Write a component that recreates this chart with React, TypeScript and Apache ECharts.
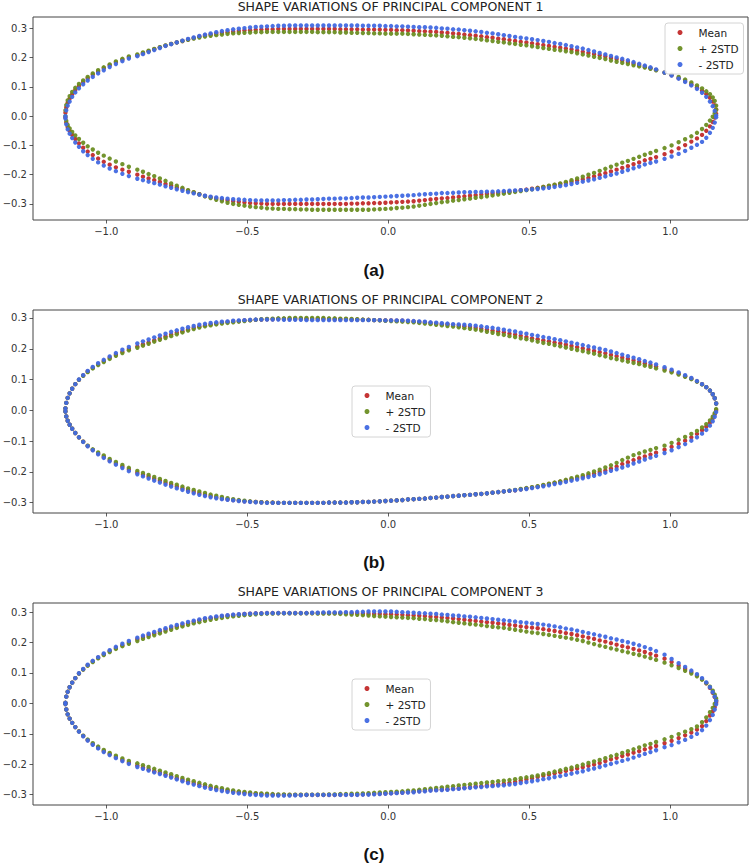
import React, { useEffect, useRef } from "react";
import * as echarts from "echarts";

const TITLES = [
  "SHAPE VARIATIONS OF PRINCIPAL COMPONENT 1",
  "SHAPE VARIATIONS OF PRINCIPAL COMPONENT 2",
  "SHAPE VARIATIONS OF PRINCIPAL COMPONENT 3",
];
const CAPTIONS = ["(a)", "(b)", "(c)"];
const SERIES_NAMES = ["Mean", "+ 2STD", "- 2STD"];
const X_TICKS = [-1.0, -0.5, 0.0, 0.5, 1.0];
const Y_TICKS = [-0.3, -0.2, -0.1, 0.0, 0.1, 0.2, 0.3];

// x positions along the contour (shared by upper and lower surfaces)
const X_LEAD = [-1.145, -1.142, -1.137, -1.13, -1.121, -1.11, -1.097, -1.082, -1.066, -1.048, -1.029, -1.009, -0.988, -0.966, -0.943, -0.92];
const X_MID = [
  -0.89, -0.87, -0.85, -0.83, -0.81, -0.79, -0.77, -0.75, -0.73, -0.71,
  -0.69, -0.67, -0.65, -0.63, -0.61, -0.59, -0.57, -0.55, -0.53, -0.51,
  -0.49, -0.47, -0.45, -0.43, -0.41, -0.39, -0.37, -0.35, -0.33, -0.31,
  -0.29, -0.27, -0.25, -0.23, -0.21, -0.19, -0.17, -0.15, -0.13, -0.11,
  -0.09, -0.07, -0.05, -0.03, -0.01, 0.01, 0.03, 0.05, 0.07, 0.09,
  0.11, 0.13, 0.15, 0.17, 0.19, 0.21, 0.23, 0.25, 0.27, 0.29,
  0.31, 0.33, 0.35, 0.37, 0.39, 0.41, 0.43, 0.45, 0.47, 0.49,
  0.51, 0.53, 0.55, 0.57, 0.59, 0.61, 0.63, 0.65, 0.67, 0.69,
  0.71, 0.73, 0.75, 0.77, 0.79, 0.81, 0.83, 0.85, 0.87, 0.89,
  0.91, 0.93, 0.95,
];
const X_TRAIL = [0.98, 1.005, 1.03, 1.053, 1.075, 1.095, 1.113, 1.128, 1.141, 1.151, 1.158, 1.163];
const XS = [...X_LEAD, ...X_MID, ...X_TRAIL];

// ---------- Principal component 1 ----------
const P1_UP_MEAN = [
  0.012, 0.03, 0.046, 0.06, 0.075, 0.09, 0.104, 0.117, 0.13, 0.142, 0.153, 0.164, 0.174, 0.184, 0.193, 0.201,
  0.208, 0.215, 0.222, 0.229, 0.235, 0.241, 0.247, 0.252, 0.257, 0.262,
  0.267, 0.272, 0.276, 0.279, 0.282, 0.285, 0.287, 0.289, 0.291, 0.293,
  0.294, 0.295, 0.296, 0.297, 0.297, 0.298, 0.298, 0.298, 0.298, 0.298,
  0.298, 0.298, 0.298, 0.298, 0.298, 0.298, 0.297, 0.297, 0.297, 0.297,
  0.296, 0.296, 0.296, 0.296, 0.295, 0.295, 0.294, 0.294, 0.293, 0.292,
  0.291, 0.29, 0.289, 0.288, 0.286, 0.285, 0.283, 0.281, 0.279, 0.277,
  0.275, 0.273, 0.27, 0.268, 0.265, 0.263, 0.26, 0.257, 0.254, 0.252,
  0.249, 0.246, 0.243, 0.24, 0.237, 0.234, 0.231, 0.228, 0.224, 0.22,
  0.216, 0.212, 0.208, 0.204, 0.199, 0.195, 0.19, 0.185, 0.18, 0.175,
  0.169, 0.164, 0.158,
  0.149, 0.14, 0.13, 0.12, 0.109, 0.098, 0.087, 0.076, 0.063, 0.05, 0.037, 0.022,
];
const P1_UP_PLUS = [
  0.02, 0.038, 0.054, 0.068, 0.083, 0.097, 0.11, 0.122, 0.134, 0.146, 0.157, 0.167, 0.177, 0.187, 0.196, 0.204,
  0.211, 0.218, 0.224, 0.23, 0.236, 0.242, 0.247, 0.252, 0.257, 0.261,
  0.265, 0.269, 0.272, 0.275, 0.277, 0.279, 0.281, 0.283, 0.284, 0.285,
  0.286, 0.287, 0.287, 0.288, 0.288, 0.288, 0.288, 0.288, 0.288, 0.288,
  0.288, 0.288, 0.287, 0.287, 0.287, 0.287, 0.286, 0.286, 0.285, 0.285,
  0.284, 0.284, 0.283, 0.283, 0.282, 0.282, 0.282, 0.282, 0.281, 0.28,
  0.279, 0.278, 0.277, 0.276, 0.275, 0.273, 0.271, 0.27, 0.268, 0.266,
  0.264, 0.262, 0.259, 0.257, 0.254, 0.252, 0.249, 0.247, 0.244, 0.242,
  0.239, 0.236, 0.233, 0.23, 0.227, 0.225, 0.222, 0.219, 0.215, 0.211,
  0.207, 0.203, 0.199, 0.195, 0.19, 0.186, 0.182, 0.178, 0.174, 0.17,
  0.166, 0.162, 0.157,
  0.149, 0.142, 0.134, 0.125, 0.115, 0.105, 0.095, 0.085, 0.075, 0.064, 0.052, 0.036,
];
const P1_UP_MINUS = [
  0.0, 0.02, 0.036, 0.05, 0.066, 0.081, 0.095, 0.109, 0.122, 0.134, 0.146, 0.157, 0.168, 0.178, 0.188, 0.197,
  0.205, 0.212, 0.219, 0.226, 0.233, 0.24, 0.246, 0.252, 0.258, 0.264,
  0.269, 0.274, 0.279, 0.283, 0.287, 0.291, 0.294, 0.297, 0.299, 0.301,
  0.303, 0.305, 0.306, 0.307, 0.308, 0.309, 0.309, 0.31, 0.31, 0.31,
  0.31, 0.31, 0.31, 0.31, 0.31, 0.31, 0.31, 0.31, 0.31, 0.31,
  0.309, 0.309, 0.309, 0.309, 0.308, 0.308, 0.307, 0.307, 0.306, 0.305,
  0.304, 0.304, 0.303, 0.302, 0.3, 0.299, 0.297, 0.296, 0.294, 0.292,
  0.29, 0.288, 0.285, 0.283, 0.28, 0.277, 0.274, 0.271, 0.268, 0.266,
  0.263, 0.26, 0.257, 0.254, 0.25, 0.247, 0.243, 0.239, 0.235, 0.231,
  0.226, 0.221, 0.216, 0.211, 0.206, 0.201, 0.196, 0.191, 0.185, 0.179,
  0.173, 0.167, 0.16,
  0.149, 0.139, 0.128, 0.117, 0.105, 0.093, 0.08, 0.066, 0.05, 0.034, 0.018, 0.002,
];
const P1_LO_MEAN = [
  -0.005, -0.022, -0.037, -0.05, -0.064, -0.078, -0.093, -0.108, -0.121, -0.133, -0.145, -0.156, -0.166, -0.175, -0.183, -0.19,
  -0.2, -0.207, -0.213, -0.219, -0.225, -0.232, -0.238, -0.244, -0.249, -0.255,
  -0.261, -0.267, -0.273, -0.277, -0.281, -0.285, -0.288, -0.291, -0.293, -0.295,
  -0.297, -0.298, -0.299, -0.3, -0.3, -0.3, -0.3, -0.3, -0.3, -0.3,
  -0.3, -0.3, -0.3, -0.3, -0.3, -0.3, -0.3, -0.3, -0.299, -0.299,
  -0.298, -0.298, -0.297, -0.297, -0.296, -0.295, -0.294, -0.293, -0.292, -0.291,
  -0.289, -0.287, -0.285, -0.283, -0.281, -0.28, -0.278, -0.276, -0.274, -0.272,
  -0.27, -0.268, -0.266, -0.264, -0.262, -0.26, -0.258, -0.256, -0.253, -0.251,
  -0.248, -0.245, -0.242, -0.239, -0.235, -0.232, -0.228, -0.224, -0.22, -0.216,
  -0.211, -0.206, -0.201, -0.195, -0.189, -0.183, -0.177, -0.171, -0.164, -0.158,
  -0.151, -0.146, -0.14,
  -0.13, -0.121, -0.11, -0.099, -0.087, -0.076, -0.064, -0.05, -0.035, -0.02, -0.005, 0.008,
];
const P1_LO_PLUS = [
  0.0, -0.016, -0.03, -0.042, -0.054, -0.066, -0.078, -0.091, -0.103, -0.114, -0.125, -0.135, -0.145, -0.155, -0.164, -0.173,
  -0.183, -0.19, -0.198, -0.205, -0.213, -0.221, -0.23, -0.238, -0.245, -0.253,
  -0.26, -0.267, -0.274, -0.28, -0.286, -0.291, -0.296, -0.3, -0.303, -0.306,
  -0.309, -0.311, -0.313, -0.315, -0.316, -0.317, -0.317, -0.318, -0.318, -0.319,
  -0.319, -0.32, -0.32, -0.32, -0.32, -0.32, -0.32, -0.32, -0.32, -0.32,
  -0.32, -0.32, -0.319, -0.318, -0.317, -0.316, -0.314, -0.313, -0.311, -0.309,
  -0.306, -0.303, -0.3, -0.297, -0.294, -0.292, -0.289, -0.287, -0.284, -0.282,
  -0.279, -0.277, -0.274, -0.271, -0.268, -0.265, -0.262, -0.259, -0.256, -0.253,
  -0.25, -0.246, -0.242, -0.238, -0.234, -0.23, -0.225, -0.219, -0.213, -0.207,
  -0.2, -0.194, -0.187, -0.18, -0.173, -0.166, -0.159, -0.153, -0.146, -0.139,
  -0.132, -0.126, -0.119,
  -0.109, -0.1, -0.089, -0.079, -0.069, -0.057, -0.044, -0.03, -0.015, -0.002, 0.01, 0.022,
];
const P1_LO_MINUS = [
  -0.008, -0.028, -0.045, -0.06, -0.075, -0.09, -0.105, -0.12, -0.133, -0.146, -0.158, -0.169, -0.179, -0.188, -0.197, -0.205,
  -0.214, -0.219, -0.224, -0.229, -0.234, -0.24, -0.245, -0.25, -0.255, -0.26,
  -0.264, -0.268, -0.272, -0.275, -0.278, -0.28, -0.282, -0.284, -0.285, -0.286,
  -0.287, -0.288, -0.288, -0.288, -0.288, -0.288, -0.287, -0.287, -0.286, -0.286,
  -0.285, -0.285, -0.284, -0.283, -0.282, -0.282, -0.281, -0.281, -0.28, -0.279,
  -0.278, -0.278, -0.277, -0.276, -0.275, -0.274, -0.273, -0.272, -0.271, -0.27,
  -0.268, -0.267, -0.266, -0.265, -0.263, -0.263, -0.262, -0.261, -0.26, -0.26,
  -0.259, -0.259, -0.258, -0.258, -0.257, -0.256, -0.255, -0.254, -0.253, -0.252,
  -0.25, -0.249, -0.247, -0.245, -0.242, -0.239, -0.236, -0.232, -0.228, -0.224,
  -0.22, -0.216, -0.211, -0.206, -0.201, -0.196, -0.19, -0.184, -0.178, -0.172,
  -0.165, -0.16, -0.155,
  -0.146, -0.138, -0.129, -0.119, -0.108, -0.098, -0.088, -0.074, -0.057, -0.04, -0.022, -0.004,
];

// ---------- Principal component 2 ----------
const P2_UP_MEAN = [
  0.006, 0.024, 0.04, 0.055, 0.07, 0.085, 0.099, 0.113, 0.126, 0.138, 0.149, 0.16, 0.171, 0.181, 0.19, 0.199,
  0.207, 0.214, 0.22, 0.227, 0.233, 0.24, 0.246, 0.252, 0.257, 0.263,
  0.268, 0.272, 0.276, 0.279, 0.282, 0.285, 0.287, 0.289, 0.29, 0.292,
  0.293, 0.294, 0.295, 0.296, 0.296, 0.297, 0.297, 0.297, 0.297, 0.297,
  0.297, 0.297, 0.297, 0.297, 0.296, 0.296, 0.296, 0.296, 0.295, 0.295,
  0.294, 0.294, 0.293, 0.293, 0.292, 0.292, 0.291, 0.291, 0.29, 0.289,
  0.287, 0.286, 0.284, 0.282, 0.28, 0.279, 0.277, 0.275, 0.273, 0.271,
  0.268, 0.265, 0.262, 0.259, 0.256, 0.253, 0.249, 0.246, 0.242, 0.238,
  0.234, 0.231, 0.227, 0.224, 0.22, 0.217, 0.213, 0.209, 0.205, 0.201,
  0.197, 0.193, 0.189, 0.185, 0.18, 0.176, 0.171, 0.167, 0.162, 0.157,
  0.152, 0.147, 0.142,
  0.134, 0.127, 0.119, 0.111, 0.103, 0.094, 0.085, 0.075, 0.064, 0.052, 0.039, 0.022,
];
const P2_UP_PLUS = [
  0.006, 0.024, 0.04, 0.055, 0.07, 0.085, 0.099, 0.112, 0.124, 0.136, 0.147, 0.157, 0.167, 0.177, 0.186, 0.195,
  0.203, 0.21, 0.216, 0.223, 0.229, 0.235, 0.241, 0.247, 0.253, 0.259,
  0.264, 0.269, 0.273, 0.276, 0.279, 0.282, 0.284, 0.286, 0.288, 0.29,
  0.292, 0.294, 0.296, 0.297, 0.298, 0.299, 0.299, 0.3, 0.3, 0.3,
  0.3, 0.3, 0.3, 0.3, 0.299, 0.299, 0.298, 0.298, 0.297, 0.296,
  0.295, 0.294, 0.293, 0.292, 0.291, 0.29, 0.289, 0.288, 0.287, 0.286,
  0.284, 0.282, 0.28, 0.278, 0.276, 0.274, 0.272, 0.27, 0.267, 0.265,
  0.262, 0.259, 0.255, 0.252, 0.248, 0.245, 0.241, 0.238, 0.234, 0.231,
  0.227, 0.223, 0.219, 0.216, 0.212, 0.208, 0.204, 0.2, 0.196, 0.192,
  0.188, 0.184, 0.179, 0.175, 0.17, 0.166, 0.162, 0.158, 0.154, 0.15,
  0.145, 0.141, 0.136,
  0.129, 0.123, 0.116, 0.109, 0.101, 0.093, 0.084, 0.075, 0.064, 0.052, 0.039, 0.022,
];
const P2_UP_MINUS = [
  0.006, 0.024, 0.04, 0.055, 0.07, 0.085, 0.1, 0.114, 0.128, 0.141, 0.153, 0.164, 0.175, 0.186, 0.197, 0.206,
  0.217, 0.224, 0.23, 0.237, 0.243, 0.249, 0.255, 0.26, 0.265, 0.27,
  0.274, 0.278, 0.281, 0.284, 0.286, 0.288, 0.289, 0.291, 0.292, 0.293,
  0.294, 0.295, 0.295, 0.295, 0.295, 0.295, 0.294, 0.294, 0.294, 0.294,
  0.293, 0.293, 0.293, 0.293, 0.293, 0.293, 0.293, 0.293, 0.293, 0.293,
  0.293, 0.293, 0.293, 0.293, 0.292, 0.292, 0.292, 0.292, 0.291, 0.29,
  0.289, 0.288, 0.286, 0.285, 0.283, 0.282, 0.28, 0.279, 0.278, 0.277,
  0.275, 0.273, 0.27, 0.268, 0.265, 0.262, 0.259, 0.256, 0.252, 0.249,
  0.245, 0.242, 0.238, 0.235, 0.231, 0.228, 0.224, 0.22, 0.216, 0.212,
  0.208, 0.204, 0.2, 0.196, 0.191, 0.186, 0.181, 0.176, 0.171, 0.166,
  0.16, 0.155, 0.149,
  0.14, 0.132, 0.123, 0.114, 0.105, 0.095, 0.085, 0.075, 0.064, 0.052, 0.039, 0.022,
];
const P2_LO_MEAN = [
  -0.004, -0.02, -0.034, -0.047, -0.06, -0.074, -0.088, -0.102, -0.116, -0.129, -0.141, -0.152, -0.163, -0.173, -0.183, -0.192,
  -0.203, -0.21, -0.216, -0.223, -0.229, -0.236, -0.242, -0.248, -0.254, -0.26,
  -0.265, -0.27, -0.275, -0.279, -0.283, -0.287, -0.29, -0.292, -0.294, -0.296,
  -0.297, -0.298, -0.299, -0.3, -0.3, -0.301, -0.301, -0.301, -0.301, -0.301,
  -0.301, -0.301, -0.301, -0.301, -0.3, -0.3, -0.3, -0.3, -0.299, -0.299,
  -0.298, -0.298, -0.297, -0.296, -0.295, -0.294, -0.293, -0.292, -0.29, -0.289,
  -0.288, -0.287, -0.285, -0.284, -0.282, -0.281, -0.279, -0.278, -0.276, -0.275,
  -0.273, -0.272, -0.27, -0.268, -0.266, -0.264, -0.262, -0.26, -0.257, -0.254,
  -0.251, -0.248, -0.244, -0.24, -0.236, -0.232, -0.228, -0.224, -0.22, -0.216,
  -0.211, -0.206, -0.201, -0.196, -0.19, -0.183, -0.175, -0.169, -0.162, -0.156,
  -0.15, -0.144, -0.138,
  -0.128, -0.119, -0.109, -0.099, -0.088, -0.077, -0.065, -0.053, -0.04, -0.026, -0.013, 0.0,
];
const P2_LO_PLUS = [
  -0.004, -0.02, -0.034, -0.047, -0.06, -0.074, -0.088, -0.102, -0.115, -0.127, -0.137, -0.147, -0.158, -0.168, -0.178, -0.187,
  -0.197, -0.204, -0.21, -0.217, -0.223, -0.23, -0.236, -0.242, -0.248, -0.254,
  -0.259, -0.264, -0.269, -0.274, -0.278, -0.282, -0.286, -0.289, -0.292, -0.294,
  -0.296, -0.298, -0.299, -0.3, -0.3, -0.301, -0.301, -0.301, -0.301, -0.301,
  -0.301, -0.301, -0.301, -0.301, -0.3, -0.3, -0.3, -0.3, -0.299, -0.299,
  -0.298, -0.298, -0.297, -0.296, -0.295, -0.294, -0.293, -0.292, -0.29, -0.289,
  -0.288, -0.287, -0.285, -0.284, -0.282, -0.281, -0.279, -0.278, -0.276, -0.275,
  -0.273, -0.272, -0.27, -0.268, -0.266, -0.264, -0.261, -0.259, -0.256, -0.253,
  -0.25, -0.247, -0.243, -0.239, -0.235, -0.231, -0.226, -0.221, -0.216, -0.211,
  -0.205, -0.199, -0.193, -0.186, -0.179, -0.171, -0.162, -0.154, -0.146, -0.14,
  -0.134, -0.129, -0.123,
  -0.115, -0.106, -0.096, -0.087, -0.077, -0.067, -0.056, -0.045, -0.033, -0.021, -0.009, 0.004,
];
const P2_LO_MINUS = [
  -0.004, -0.02, -0.034, -0.047, -0.06, -0.074, -0.088, -0.103, -0.117, -0.13, -0.143, -0.155, -0.166, -0.177, -0.188, -0.198,
  -0.208, -0.215, -0.222, -0.229, -0.235, -0.242, -0.248, -0.254, -0.259, -0.265,
  -0.27, -0.275, -0.279, -0.283, -0.286, -0.289, -0.291, -0.293, -0.295, -0.297,
  -0.298, -0.299, -0.3, -0.301, -0.301, -0.301, -0.301, -0.301, -0.301, -0.301,
  -0.301, -0.301, -0.301, -0.301, -0.3, -0.3, -0.3, -0.3, -0.299, -0.299,
  -0.298, -0.298, -0.297, -0.296, -0.295, -0.294, -0.293, -0.292, -0.29, -0.289,
  -0.288, -0.287, -0.285, -0.284, -0.282, -0.281, -0.279, -0.278, -0.276, -0.275,
  -0.273, -0.272, -0.27, -0.268, -0.266, -0.264, -0.262, -0.26, -0.258, -0.256,
  -0.253, -0.25, -0.247, -0.244, -0.24, -0.237, -0.233, -0.229, -0.225, -0.221,
  -0.217, -0.213, -0.208, -0.203, -0.197, -0.192, -0.186, -0.18, -0.173, -0.167,
  -0.16, -0.154, -0.148,
  -0.139, -0.13, -0.12, -0.11, -0.099, -0.088, -0.076, -0.064, -0.05, -0.036, -0.021, -0.006,
];

// ---------- Principal component 3 ----------
const P3_UP_MEAN = [
  0.002, 0.022, 0.038, 0.053, 0.068, 0.083, 0.098, 0.112, 0.125, 0.138, 0.15, 0.161, 0.172, 0.182, 0.191, 0.2,
  0.211, 0.218, 0.224, 0.23, 0.236, 0.242, 0.248, 0.253, 0.258, 0.263,
  0.268, 0.273, 0.277, 0.28, 0.283, 0.286, 0.288, 0.29, 0.292, 0.294,
  0.295, 0.296, 0.296, 0.297, 0.297, 0.297, 0.297, 0.297, 0.297, 0.297,
  0.297, 0.297, 0.297, 0.297, 0.297, 0.297, 0.297, 0.297, 0.296, 0.296,
  0.295, 0.295, 0.294, 0.294, 0.293, 0.293, 0.292, 0.291, 0.29, 0.289,
  0.288, 0.287, 0.285, 0.284, 0.282, 0.281, 0.279, 0.277, 0.275, 0.273,
  0.271, 0.269, 0.267, 0.265, 0.263, 0.261, 0.258, 0.256, 0.253, 0.251,
  0.249, 0.247, 0.244, 0.241, 0.238, 0.235, 0.231, 0.228, 0.224, 0.22,
  0.216, 0.212, 0.207, 0.203, 0.198, 0.193, 0.188, 0.184, 0.179, 0.174,
  0.169, 0.163, 0.157,
  0.147, 0.136, 0.124, 0.113, 0.103, 0.092, 0.08, 0.066, 0.051, 0.035, 0.021, 0.007,
];
const P3_UP_PLUS = [
  0.002, 0.022, 0.038, 0.053, 0.068, 0.083, 0.098, 0.111, 0.124, 0.136, 0.148, 0.159, 0.169, 0.179, 0.188, 0.196,
  0.205, 0.212, 0.218, 0.224, 0.23, 0.236, 0.242, 0.248, 0.253, 0.258,
  0.263, 0.267, 0.271, 0.275, 0.278, 0.281, 0.284, 0.286, 0.288, 0.29,
  0.291, 0.293, 0.294, 0.295, 0.295, 0.296, 0.296, 0.296, 0.296, 0.296,
  0.296, 0.296, 0.295, 0.295, 0.295, 0.295, 0.294, 0.293, 0.292, 0.291,
  0.29, 0.289, 0.287, 0.286, 0.285, 0.284, 0.283, 0.282, 0.281, 0.28,
  0.278, 0.277, 0.275, 0.274, 0.272, 0.27, 0.267, 0.265, 0.263, 0.261,
  0.259, 0.257, 0.254, 0.252, 0.25, 0.248, 0.245, 0.242, 0.239, 0.236,
  0.233, 0.231, 0.228, 0.225, 0.222, 0.219, 0.216, 0.213, 0.209, 0.205,
  0.2, 0.195, 0.19, 0.186, 0.181, 0.177, 0.172, 0.168, 0.163, 0.159,
  0.154, 0.149, 0.143,
  0.134, 0.125, 0.116, 0.107, 0.098, 0.089, 0.078, 0.067, 0.055, 0.042, 0.029, 0.016,
];
const P3_UP_MINUS = [
  0.002, 0.022, 0.038, 0.053, 0.068, 0.083, 0.099, 0.113, 0.127, 0.14, 0.152, 0.164, 0.175, 0.186, 0.196, 0.205,
  0.216, 0.223, 0.229, 0.235, 0.241, 0.247, 0.253, 0.258, 0.263, 0.268,
  0.272, 0.276, 0.28, 0.283, 0.286, 0.288, 0.29, 0.292, 0.293, 0.294,
  0.295, 0.296, 0.296, 0.297, 0.297, 0.297, 0.297, 0.297, 0.297, 0.297,
  0.297, 0.298, 0.298, 0.299, 0.299, 0.299, 0.299, 0.3, 0.3, 0.301,
  0.301, 0.302, 0.302, 0.302, 0.302, 0.302, 0.301, 0.3, 0.299, 0.298,
  0.297, 0.296, 0.295, 0.294, 0.292, 0.291, 0.289, 0.288, 0.286, 0.285,
  0.283, 0.281, 0.279, 0.277, 0.275, 0.273, 0.271, 0.269, 0.267, 0.265,
  0.263, 0.261, 0.259, 0.256, 0.253, 0.25, 0.246, 0.243, 0.239, 0.235,
  0.231, 0.227, 0.223, 0.219, 0.214, 0.21, 0.205, 0.201, 0.196, 0.191,
  0.185, 0.179, 0.172,
  0.16, 0.146, 0.132, 0.12, 0.108, 0.096, 0.083, 0.069, 0.053, 0.037, 0.022, 0.008,
];
const P3_LO_MEAN = [
  -0.002, -0.02, -0.036, -0.05, -0.064, -0.078, -0.092, -0.107, -0.121, -0.134, -0.146, -0.157, -0.167, -0.177, -0.186, -0.195,
  -0.204, -0.211, -0.217, -0.223, -0.228, -0.234, -0.24, -0.246, -0.251, -0.257,
  -0.262, -0.267, -0.272, -0.276, -0.28, -0.284, -0.287, -0.29, -0.292, -0.294,
  -0.296, -0.297, -0.298, -0.299, -0.3, -0.301, -0.301, -0.301, -0.301, -0.301,
  -0.301, -0.301, -0.301, -0.301, -0.301, -0.301, -0.3, -0.3, -0.3, -0.3,
  -0.299, -0.298, -0.297, -0.297, -0.296, -0.295, -0.294, -0.293, -0.291, -0.29,
  -0.288, -0.287, -0.285, -0.284, -0.283, -0.282, -0.28, -0.279, -0.277, -0.275,
  -0.273, -0.272, -0.27, -0.268, -0.266, -0.264, -0.261, -0.258, -0.254, -0.25,
  -0.246, -0.242, -0.238, -0.234, -0.23, -0.226, -0.222, -0.218, -0.214, -0.21,
  -0.205, -0.201, -0.196, -0.19, -0.184, -0.179, -0.173, -0.168, -0.162, -0.157,
  -0.151, -0.146, -0.14,
  -0.131, -0.123, -0.114, -0.105, -0.096, -0.086, -0.075, -0.058, -0.04, -0.026, -0.012, 0.002,
];
const P3_LO_PLUS = [
  -0.002, -0.02, -0.036, -0.05, -0.064, -0.078, -0.092, -0.106, -0.119, -0.131, -0.142, -0.153, -0.163, -0.172, -0.181, -0.189,
  -0.197, -0.203, -0.209, -0.215, -0.221, -0.227, -0.233, -0.239, -0.245, -0.251,
  -0.256, -0.261, -0.266, -0.271, -0.275, -0.279, -0.283, -0.286, -0.289, -0.291,
  -0.293, -0.295, -0.296, -0.297, -0.298, -0.299, -0.299, -0.3, -0.3, -0.3,
  -0.3, -0.3, -0.3, -0.3, -0.299, -0.299, -0.298, -0.298, -0.297, -0.297,
  -0.296, -0.295, -0.294, -0.293, -0.292, -0.291, -0.29, -0.289, -0.287, -0.286,
  -0.284, -0.282, -0.28, -0.278, -0.276, -0.274, -0.272, -0.27, -0.268, -0.266,
  -0.264, -0.262, -0.26, -0.258, -0.256, -0.254, -0.252, -0.249, -0.246, -0.243,
  -0.24, -0.237, -0.233, -0.229, -0.224, -0.22, -0.215, -0.211, -0.206, -0.201,
  -0.196, -0.191, -0.186, -0.18, -0.174, -0.169, -0.163, -0.157, -0.151, -0.145,
  -0.138, -0.133, -0.127,
  -0.118, -0.11, -0.101, -0.093, -0.085, -0.076, -0.062, -0.046, -0.029, -0.015, -0.002, 0.01,
];
const P3_LO_MINUS = [
  -0.002, -0.02, -0.036, -0.05, -0.064, -0.078, -0.093, -0.108, -0.122, -0.136, -0.148, -0.16, -0.17, -0.18, -0.19, -0.199,
  -0.209, -0.215, -0.221, -0.227, -0.232, -0.238, -0.244, -0.25, -0.256, -0.262,
  -0.267, -0.272, -0.277, -0.281, -0.285, -0.288, -0.291, -0.294, -0.296, -0.298,
  -0.3, -0.301, -0.302, -0.303, -0.303, -0.303, -0.303, -0.303, -0.302, -0.302,
  -0.301, -0.301, -0.301, -0.301, -0.301, -0.301, -0.301, -0.301, -0.301, -0.301,
  -0.3, -0.3, -0.299, -0.298, -0.297, -0.296, -0.295, -0.294, -0.293, -0.292,
  -0.29, -0.289, -0.287, -0.286, -0.285, -0.284, -0.282, -0.281, -0.279, -0.278,
  -0.276, -0.275, -0.273, -0.272, -0.27, -0.269, -0.267, -0.265, -0.262, -0.259,
  -0.256, -0.253, -0.249, -0.246, -0.242, -0.239, -0.235, -0.231, -0.227, -0.223,
  -0.218, -0.214, -0.209, -0.204, -0.199, -0.194, -0.189, -0.184, -0.178, -0.172,
  -0.166, -0.16, -0.154,
  -0.144, -0.137, -0.128, -0.12, -0.11, -0.1, -0.088, -0.073, -0.055, -0.038, -0.02, -0.003,
];

const PANELS = [
  { up: [P1_UP_MEAN, P1_UP_PLUS, P1_UP_MINUS], lo: [P1_LO_MEAN, P1_LO_PLUS, P1_LO_MINUS] },
  { up: [P2_UP_MEAN, P2_UP_PLUS, P2_UP_MINUS], lo: [P2_LO_MEAN, P2_LO_PLUS, P2_LO_MINUS] },
  { up: [P3_UP_MEAN, P3_UP_PLUS, P3_UP_MINUS], lo: [P3_LO_MEAN, P3_LO_PLUS, P3_LO_MINUS] },
];

const COLORS = ["#c22a2a", "#6b8e23", "#4169e1"];

// layout (pixels)
const GRIDS = [
  { top: 17, height: 203, yMin: -0.355, yMax: 0.339, legendLeft: 665, legendTop: 23, titleY: 6, capY: 270 },
  { top: 310, height: 203, yMin: -0.334, yMax: 0.326, legendLeft: 352, legendTop: 386, titleY: 299, capY: 562 },
  { top: 603, height: 202, yMin: -0.334, yMax: 0.33, legendLeft: 352, legendTop: 679, titleY: 591.5, capY: 854 },
];
const GRID_LEFT = 33;
const GRID_WIDTH = 715;

function fmt(v: number): string {
  const s = Math.abs(v).toFixed(1);
  return v < -1e-9 ? "\u2212" + s : s;
}

function buildPoints(up: number[], lo: number[]): number[][] {
  const pts: number[][] = [];
  const n = Math.min(XS.length, up.length);
  for (let i = 0; i < n; i++) pts.push([XS[i], up[i]]);
  const m = Math.min(XS.length, lo.length);
  for (let i = 0; i < m; i++) pts.push([XS[i], lo[i]]);
  return pts;
}

export default function App() {
  const ref = useRef<HTMLDivElement>(null);
  useEffect(() => {
    if (!ref.current) return;
    const chart = echarts.init(ref.current, null, { renderer: "svg" });
    const grid: any[] = [];
    const xAxis: any[] = [];
    const yAxis: any[] = [];
    const series: any[] = [];
    const legend: any[] = [];
    const graphic: any[] = [];
    const tickStyle = { color: "#333", fontSize: 10, fontFamily: "DejaVu Sans" };
    GRIDS.forEach((g, i) => {
      grid.push({
        left: GRID_LEFT, top: g.top, width: GRID_WIDTH, height: g.height,
        show: true, borderColor: "#444", borderWidth: 1, backgroundColor: "#fff",
        containLabel: false, outerBoundsMode: "none",
      });
      xAxis.push({
        type: "value", gridIndex: i, min: -1.26, max: 1.276, position: "bottom",
        axisLine: { show: false, onZero: false }, splitLine: { show: false },
        axisTick: { show: true, length: 3.5, lineStyle: { color: "#333", width: 0.8 }, customValues: X_TICKS },
        axisLabel: { ...tickStyle, margin: 6, customValues: X_TICKS, formatter: (v: number) => fmt(v) },
      });
      yAxis.push({
        type: "value", gridIndex: i, min: g.yMin, max: g.yMax, position: "left",
        axisLine: { show: false, onZero: false }, splitLine: { show: false },
        axisTick: { show: true, length: 3.5, lineStyle: { color: "#333", width: 0.8 }, customValues: Y_TICKS },
        axisLabel: { ...tickStyle, margin: 6, customValues: Y_TICKS, formatter: (v: number) => fmt(v) },
      });
      const p = PANELS[i];
      SERIES_NAMES.forEach((name, k) => {
        series.push({
          type: "scatter", name, xAxisIndex: i, yAxisIndex: i,
          data: buildPoints(p.up[k], p.lo[k]),
          symbol: "circle", symbolSize: 4.4,
          itemStyle: { color: COLORS[k], opacity: 0.95 },
          silent: true, animation: false,
        });
      });
      legend.push({
        orient: "vertical", left: g.legendLeft, top: g.legendTop,
        itemWidth: 5, itemHeight: 5, itemGap: 4,
        padding: [3.5, 5, 3.5, 12.5],
        backgroundColor: "rgba(255,255,255,0.85)", borderColor: "#d4d4d4", borderWidth: 1, borderRadius: 3,
        selectedMode: false,
        textStyle: { fontSize: 10.5, fontFamily: "DejaVu Sans", color: "#222", lineHeight: 12, padding: [0, 0, 0, 11] },
        data: SERIES_NAMES.map((n) => ({ name: n, icon: "circle" })),
      });
      graphic.push({
        type: "text", x: GRID_LEFT + GRID_WIDTH / 2, y: g.titleY, silent: true,
        style: { text: TITLES[i], font: '12.5px "DejaVu Sans"', fill: "#222", textAlign: "center", textVerticalAlign: "middle" },
      });
      graphic.push({
        type: "text", x: 374, y: g.capY, silent: true,
        style: { text: CAPTIONS[i], font: 'bold 17px "Liberation Sans", Arial, sans-serif', fill: "#111", textAlign: "center", textVerticalAlign: "middle" },
      });
    });
    chart.setOption({
      animation: false,
      backgroundColor: "#fff",
      grid, xAxis, yAxis, series, legend, graphic,
    });
    return () => chart.dispose();
  }, []);
  return (
    <div
      ref={ref}
      style={{ position: "absolute", left: 0, top: 0, width: 751, height: 866, background: "#fff" }}
    />
  );
}
